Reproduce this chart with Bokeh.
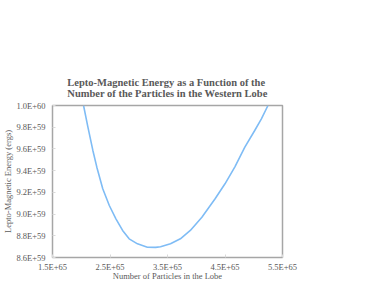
from bokeh.plotting import figure
from bokeh.models import FixedTicker, CustomJSTickFormatter, Title, Range1d
from bokeh.embed import file_html
from bokeh.resources import INLINE

# Data (particles, energy in ergs)
particles = [2.040e65, 2.116e65, 2.202e65, 2.271e65, 2.374e65, 2.488e65, 2.603e65,
             2.719e65, 2.833e65, 2.978e65, 3.150e65, 3.293e65, 3.379e65, 3.552e65,
             3.724e65, 3.897e65, 4.098e65, 4.328e65, 4.500e65, 4.672e65, 4.845e65,
             5.017e65, 5.133e65, 5.247e65]
energy = [1.0000e60, 9.800e59, 9.586e59, 9.432e59, 9.233e59, 9.079e59, 8.956e59,
          8.849e59, 8.772e59, 8.726e59, 8.695e59, 8.693e59, 8.699e59, 8.726e59,
          8.772e59, 8.849e59, 8.971e59, 9.141e59, 9.279e59, 9.435e59, 9.616e59,
          9.770e59, 9.877e59, 1.0000e60]

x_ticks = [1.5e65, 2.5e65, 3.5e65, 4.5e65, 5.5e65]
y_ticks = [8.6e59, 8.8e59, 9.0e59, 9.2e59, 9.4e59, 9.6e59, 9.8e59, 1.0e60]

title_text = ("Lepto-Magnetic Energy as a Function of the\n"
              "Number of the Particles in the Western Lobe")
x_label = "Number of Particles in the Lobe"
y_label = "Lepto-Magnetic Energy (ergs)"

TEXT = "#595959"
FONT = "Liberation Serif"

p = figure(width=374, height=289, output_backend="svg", toolbar_location=None,
           x_range=Range1d(1.5e65, 5.5e65), y_range=Range1d(8.6e59, 1.0e60),
           min_border_left=51, min_border_right=92, min_border_top=105,
           min_border_bottom=32)

p.line(particles, energy, line_color="#7fbcf5", line_width=1.6,
       line_join="round")

p.title = Title(text=title_text, align="center", text_font=FONT,
                text_font_size="10.5px", text_font_style="bold",
                text_color=TEXT, offset=0, standoff=13, text_line_height=1.0)

fmt = CustomJSTickFormatter(code="return tick.toExponential(1).toUpperCase();")

for ax, ticks, lab in ((p.xaxis[0], x_ticks, x_label), (p.yaxis[0], y_ticks, y_label)):
    ax.ticker = FixedTicker(ticks=ticks)
    ax.formatter = fmt
    ax.axis_label = lab
    ax.axis_label_text_font = FONT
    ax.axis_label_text_font_size = "8.5px"
    ax.axis_label_text_font_style = "normal"
    ax.axis_label_text_color = TEXT
    ax.major_label_text_font = FONT
    ax.major_label_text_font_size = "8.5px"
    ax.major_label_text_color = TEXT
    ax.axis_line_color = None
    ax.major_tick_in = 3
    ax.major_tick_out = 0
    ax.major_tick_line_color = "#d9d9d9"
    ax.minor_tick_line_color = None

p.xaxis.major_label_standoff = 4
p.xaxis.axis_label_standoff = -4
p.yaxis.major_label_standoff = 7
p.yaxis.axis_label_standoff = 0

p.grid.visible = False
p.outline_line_color = "#a6a6a6"
p.outline_line_width = 1.5
p.background_fill_color = "white"
p.border_fill_color = "white"

open("out.html", "w").write(file_html(p, INLINE))
